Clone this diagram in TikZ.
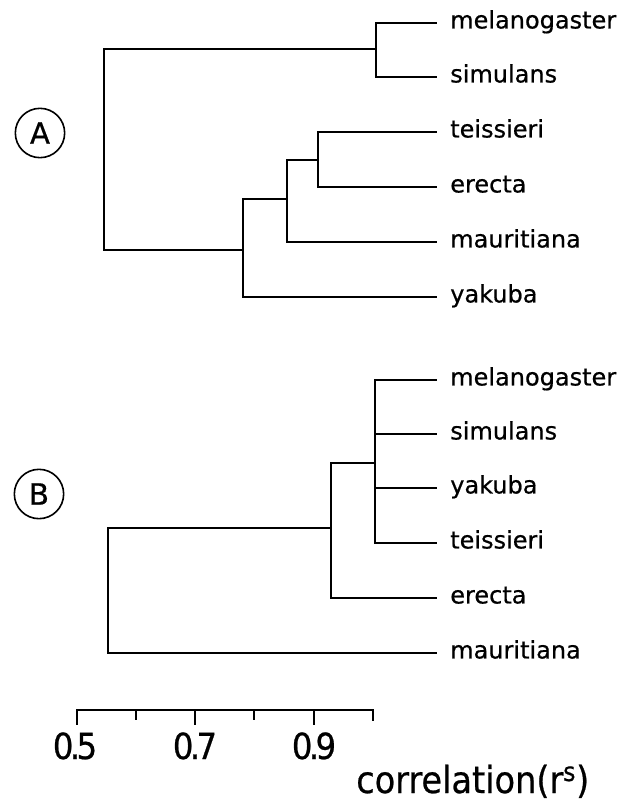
\documentclass[tikz,border=0pt]{standalone}
\usepackage{fontspec}
\setmainfont{DejaVu Sans}[FakeBold=0.6]
\newfontfamily\condfont{DejaVu Sans Condensed}[FakeBold=0.6]
\usetikzlibrary{positioning}

\begin{document}
\begin{tikzpicture}[x=0.75pt, y=-0.75pt,
    branch/.style={line width=1.6pt, line cap=rect},
    taxon/.style={inner sep=0pt, text height=8.2pt, text depth=0pt,
                  font=\fontsize{18pt}{18pt}\selectfont},
    panel/.style={circle, draw, line width=1.2pt, minimum size=37pt,
                  inner sep=0pt, font=\fontsize{22pt}{22pt}\selectfont},
    ticklab/.style={anchor=base, inner sep=0pt,
                    font=\condfont\fontsize{27pt}{27pt}\selectfont},
  ]
  \useasboundingbox (0,0) rectangle (641,804);

  % tree A
  \node[panel] (panA) at (40,133) {A};
  \coordinate (aRoot) at (104,150);
  \coordinate (aMS)   at (376,49);
  \coordinate (aLow)  at (243,250);
  \coordinate (aTEM)  at (287,199);
  \coordinate (aTE)   at (318,160);
  \coordinate (aMel)  at (436,23);
  \coordinate (aSim)  at (436,77);
  \coordinate (aTei)  at (436,132);
  \coordinate (aEre)  at (436,187);
  \coordinate (aMau)  at (436,242);
  \coordinate (aYak)  at (436,297);
  \node[taxon, right=10.5pt of aMel] (aMelL) {melanogaster};
  \node[taxon, right=10.5pt of aSim] (aSimL) {simulans};
  \node[taxon, right=10.5pt of aTei] (aTeiL) {teissieri};
  \node[taxon, right=10.5pt of aEre] (aEreL) {erecta};
  \node[taxon, right=10.5pt of aMau] (aMauL) {mauritiana};
  \node[taxon, right=10.5pt of aYak] (aYakL) {yakuba};
  \draw[branch] (aRoot) |- (aMS);
  \draw[branch] (aRoot) |- (aLow);
  \draw[branch] (aMS) |- (aMel);
  \draw[branch] (aMS) |- (aSim);
  \draw[branch] (aLow) |- (aTEM);
  \draw[branch] (aLow) |- (aYak);
  \draw[branch] (aTEM) |- (aTE);
  \draw[branch] (aTEM) |- (aMau);
  \draw[branch] (aTE) |- (aTei);
  \draw[branch] (aTE) |- (aEre);

  % tree B
  \node[panel] (panB) at (39,494) {B};
  \coordinate (bRoot) at (108,590);
  \coordinate (bMain) at (331,528);
  \coordinate (bFour) at (375,463);
  \coordinate (bMel)  at (436,380);
  \coordinate (bSim)  at (436,434);
  \coordinate (bYak)  at (436,488);
  \coordinate (bTei)  at (436,543);
  \coordinate (bEre)  at (436,598);
  \coordinate (bMau)  at (436,653);
  \node[taxon, right=10.5pt of bMel] (bMelL) {melanogaster};
  \node[taxon, right=10.5pt of bSim] (bSimL) {simulans};
  \node[taxon, right=10.5pt of bYak] (bYakL) {yakuba};
  \node[taxon, right=10.5pt of bTei] (bTeiL) {teissieri};
  \node[taxon, right=10.5pt of bEre] (bEreL) {erecta};
  \node[taxon, right=10.5pt of bMau] (bMauL) {mauritiana};
  \draw[branch] (bRoot) |- (bMain);
  \draw[branch] (bRoot) |- (bMau);
  \draw[branch] (bMain) |- (bFour);
  \draw[branch] (bMain) |- (bEre);
  \draw[branch] (bFour) |- (bMel);
  \draw[branch] (bFour) |- (bSim);
  \draw[branch] (bFour) |- (bYak);
  \draw[branch] (bFour) |- (bTei);

  % scale
  \draw[branch] (77,710) -- (373,710);
  \foreach \x/\len in {77/14, 136/9, 195/14, 254/9, 314/14, 373/10}
    \draw[branch] (\x,710) -- ++(0,\len);
  \node[ticklab] (t05) at (75,759)  {0\kern-.1em.\kern-.1em5};
  \node[ticklab] (t07) at (195,759) {0\kern-.1em.\kern-.1em7};
  \node[ticklab] (t09) at (314,759) {0\kern-.1em.\kern-.1em9};
  \node[anchor=base west, inner sep=0pt,
        font=\condfont\fontsize{28pt}{28pt}\selectfont] (axname)
    at (356,793) {correlation(r\textsuperscript{s})};
\end{tikzpicture}
\end{document}
